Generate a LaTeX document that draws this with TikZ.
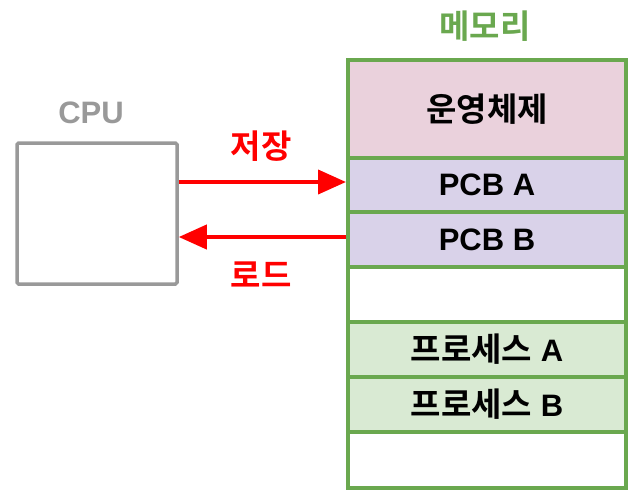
\documentclass[tikz,border=0pt]{standalone}
\usepackage{fontspec}
\setmainfont{Liberation Sans}
\newfontfamily\kr{Noto Sans CJK KR}[BoldFont={Noto Sans CJK KR Bold}]
\newcommand\krt[1]{{\kr\bfseries\fontsize{33}{35}\selectfont #1}}
\usetikzlibrary{arrows.meta}
\definecolor{memgreen}{HTML}{6AA84F}
\definecolor{ospink}{HTML}{EAD1DC}
\definecolor{pcbpurple}{HTML}{D9D2E9}
\definecolor{procgreen}{HTML}{D9EAD3}
\definecolor{cpugray}{HTML}{999999}
\definecolor{arrred}{HTML}{FF0000}
\begin{document}
\begin{tikzpicture}[x=1pt,y=-1pt,
  cell/.style={draw=memgreen,line width=4pt,minimum width=278pt,inner sep=0pt,anchor=north west,font=\bfseries\fontsize{31}{33}\selectfont},
  lbl/.style={font=\bfseries\fontsize{31}{33}\selectfont},
  arr/.style={draw=arrred,line width=4pt,-{Triangle[length=28pt,width=24pt]}}]
\useasboundingbox (0,0) rectangle (644,501);
\node[cell,fill=ospink,minimum height=98pt] (os) at (346,58) {\krt{운영체제}};
\node[cell,fill=pcbpurple,minimum height=54pt] (pcba) at (346,156) {PCB A};
\node[cell,fill=pcbpurple,minimum height=55pt] (pcbb) at (346,210) {PCB B};
\node[cell,fill=white,minimum height=55pt] (free1) at (346,265) {};
\node[cell,fill=procgreen,minimum height=55pt] (proca) at (346,320) {\krt{프로세스} A};
\node[cell,fill=procgreen,minimum height=55pt] (procb) at (346,375) {\krt{프로세스} B};
\node[cell,fill=white,minimum height=56pt] (free2) at (346,430) {};
\node[lbl,text=memgreen] (mem) at (485,26) {\krt{메모리}};
\node[draw=cpugray,line width=3.5pt,rounded corners=1.5pt,minimum width=160pt,minimum height=141pt,inner sep=0pt] (cpu) at (97,213.5) {};
\node[lbl,text=cpugray] (cpulbl) at (91,113) {CPU};
\coordinate (a1s) at (cpu.east |- 0,182);
\coordinate (a1e) at (os.west |- 0,182);
\coordinate (a2s) at (os.west |- 0,237);
\coordinate (a2e) at (cpu.east |- 0,237);
\draw[arr] (a1s) -- (a1e);
\draw[arr] (a2s) -- (a2e);
\node[lbl,text=arrred] (save) at (261,146) {\krt{저장}};
\node[lbl,text=arrred] (load) at (261,275) {\krt{로드}};
\end{tikzpicture}
\end{document}
